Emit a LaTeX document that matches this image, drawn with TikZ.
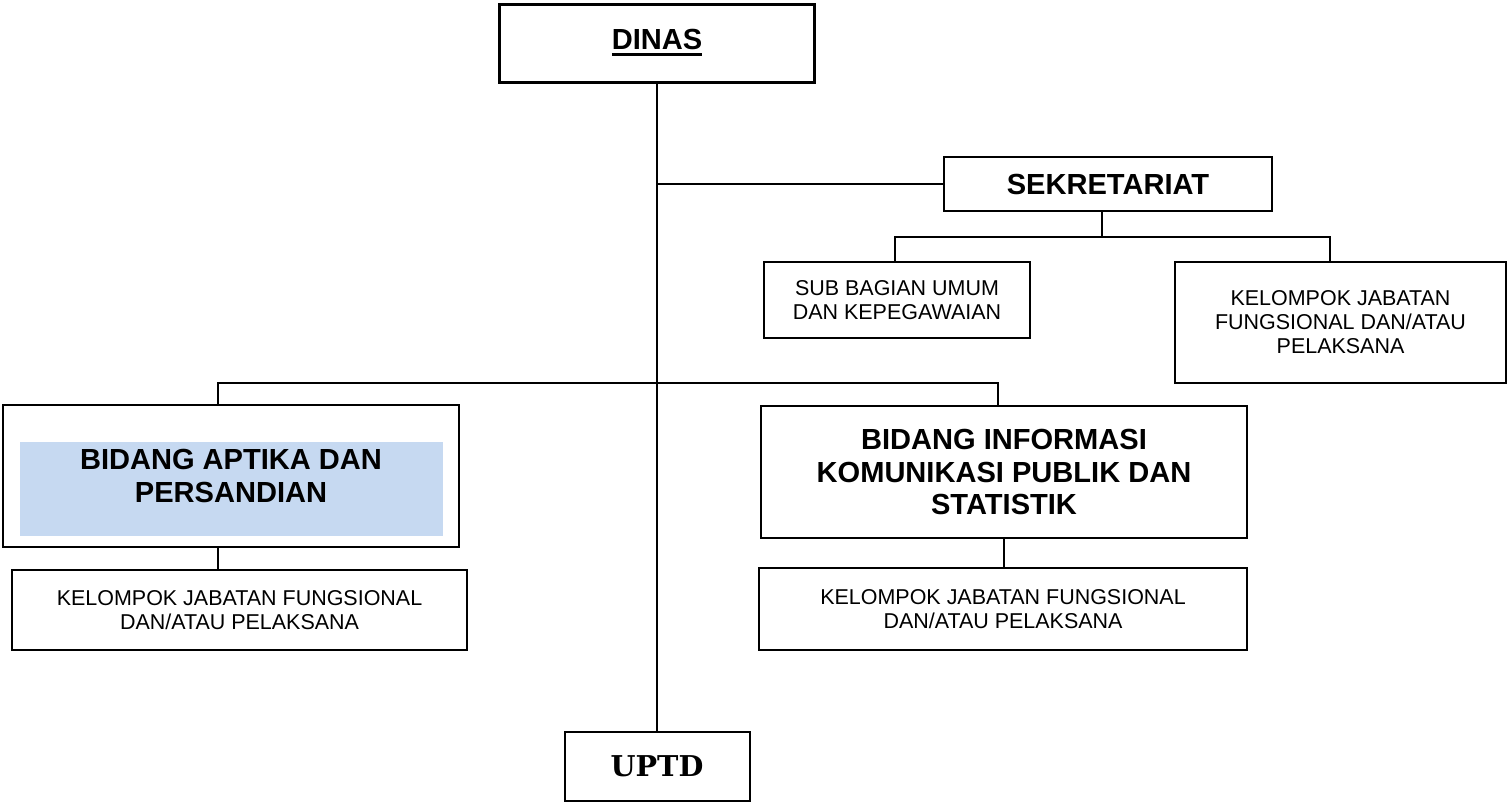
\documentclass[tikz,border=0pt]{standalone}
\usepackage{fontspec}
\setmainfont{Liberation Sans}
\newfontfamily\uptdfont{DejaVu Serif}
\usepackage{tikz}

\definecolor{aptfill}{RGB}{198,217,241}
\newcommand{\thickul}[1]{\setbox0=\hbox{#1}\copy0\llap{\rule[-5pt]{\wd0}{2.25pt}}}

\tikzset{
  box/.style={draw, line width=1.5pt, inner sep=0pt, align=center},
  bigtext/.style={font=\fontsize{21.8}{24.5}\selectfont\bfseries},
  smalltext/.style={font=\fontsize{16.1}{18}\selectfont},
  link/.style={line width=1.5pt},
}

\begin{document}
\begin{tikzpicture}[x=0.75pt,y=0.75pt,yscale=-1,xscale=1]
    \useasboundingbox (0,0) rectangle (1508,803);

    %Shape: Rectangle [id:fill aptika]
    \fill [aptfill] (20,442) rectangle (443,536) ;

    % Top Node
    \node (dinas) [box, line width=2.25pt, bigtext, minimum width=236.25pt, minimum height=58.5pt] at (657,43) {\thickul{DINAS}};
    % Bottom Node
    \node (uptd) [box, font=\fontsize{21.5}{24.5}\selectfont\uptdfont\bfseries, minimum width=138.75pt, minimum height=51.75pt] at (657,766.5) {UPTD};
    % Sekretariat
    \node (sek) [box, bigtext, minimum width=246pt, minimum height=40.5pt] at (1108,184) {SEKRETARIAT};
    \node (subbag) [box, smalltext, minimum width=200pt, minimum height=57pt] at (897,300) {SUB BAGIAN UMUM\\DAN KEPEGAWAIAN};
    \node (kjfsek) [box, smalltext, minimum width=248.25pt, minimum height=90.75pt] at (1340.5,322.5) {KELOMPOK JABATAN\\FUNGSIONAL DAN/ATAU\\PELAKSANA};
    % Bidang Aptika
    \node (aptika) [box, bigtext, minimum width=342pt, minimum height=106.5pt] at (231,476) {BIDANG APTIKA DAN\\PERSANDIAN};
    \node (kjfapt) [box, smalltext, minimum width=341.25pt, minimum height=60pt] at (239.5,610) {KELOMPOK JABATAN FUNGSIONAL\\DAN/ATAU PELAKSANA};
    % Bidang Informasi
    \node (info) [box, bigtext, minimum width=364.5pt, minimum height=99pt] at (1004,472) {BIDANG INFORMASI\\KOMUNIKASI PUBLIK DAN\\STATISTIK};
    \node (kjfinfo) [box, smalltext, minimum width=366pt, minimum height=61.5pt] at (1003,609) {KELOMPOK JABATAN FUNGSIONAL\\DAN/ATAU PELAKSANA};

    %Junctions
    \coordinate (jsek) at (657,184) ;
    \coordinate (bsek) at (1102,237) ;
    \coordinate (bbid) at (657,383) ;

    %Straight Lines [id:main]
    \draw [link] (dinas.south) -- (uptd.north) ;
    %Straight Lines [id:sekretariat]
    \draw [link] (jsek) -- (sek.west) ;
    \draw [link] (sek.south -| bsek) -- (bsek) ;
    \draw [link] ([xshift=-1.5pt]subbag.north) |- (bsek) -| ([xshift=-7.9pt]kjfsek.north) ;
    %Straight Lines [id:bidang]
    \draw [link] ([xshift=-9.75pt]aptika.north) |- (bbid) -| ([xshift=-4.5pt]info.north) ;
    \draw [link] ([xshift=-9.75pt]aptika.south) coordinate (s1) -- (s1 |- kjfapt.north) ;
    \draw [link] (info.south) -- (info.south |- kjfinfo.north) ;

\end{tikzpicture}
\end{document}
